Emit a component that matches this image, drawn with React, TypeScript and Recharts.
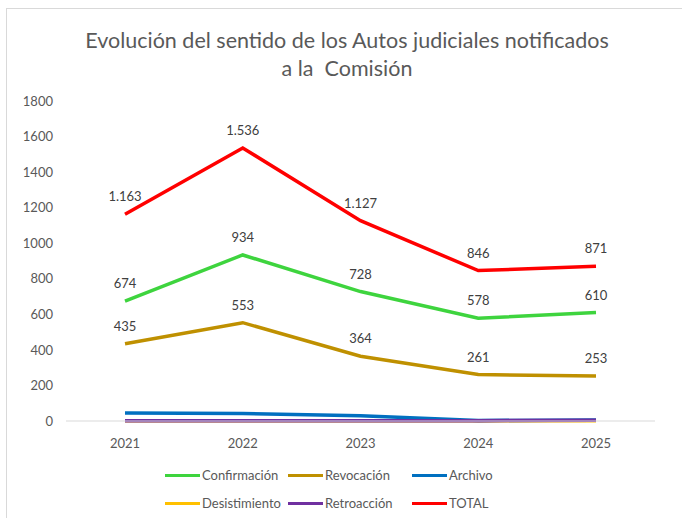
import React from 'react';
import { LineChart, Line, XAxis, YAxis, LabelList } from 'recharts';

const years = ['2021', '2022', '2023', '2024', '2025'];
const confirmacion = [674, 934, 728, 578, 610];
const revocacion = [435, 553, 364, 261, 253];
const archivo = [45, 42, 30, 3, 5];
const desistimiento = [1, 1, 1, 1, 1];
const retroaccion = [2, 2, 2, 2, 4];
const total = [1163, 1536, 1127, 846, 871];
const yTicks = [0, 200, 400, 600, 800, 1000, 1200, 1400, 1600, 1800];

const series = [
  { key: 'confirmacion', name: 'Confirmación', color: '#3ED43E', values: confirmacion, labels: true },
  { key: 'revocacion', name: 'Revocación', color: '#BF9000', values: revocacion, labels: true },
  { key: 'archivo', name: 'Archivo', color: '#0070C0', values: archivo, labels: false },
  { key: 'desistimiento', name: 'Desistimiento', color: '#FFC000', values: desistimiento, labels: false },
  { key: 'retroaccion', name: 'Retroacción', color: '#7030A0', values: retroaccion, labels: false },
  { key: 'total', name: 'TOTAL', color: '#FF0000', values: total, labels: true },
];

const data = years.map((year, i) => {
  const row: Record<string, string | number> = { year };
  series.forEach(s => { row[s.key] = s.values[i]; });
  return row;
});

const font = 'Lato, "Open Sans", sans-serif';
const fmt = (v: number) => (v >= 1000 ? v.toLocaleString('de-DE') : String(v));

const App: React.FC = () => {
  const legendCols = [165, 288, 412];
  return (
    <div style={{ position: 'absolute', left: 0, top: 0, width: 682, height: 518, background: '#fff', fontFamily: font }}>
      <div style={{ position: 'absolute', left: 6, top: 8, width: 690, height: 520, border: '1px solid #d9d9d9' }} />
      <div style={{ position: 'absolute', left: 0, top: 26, width: 694, textAlign: 'center', fontSize: 21.5, lineHeight: '28px', color: '#595959' }}>
        Evolución del sentido de los Autos judiciales notificados<br />a la&nbsp; Comisión
      </div>
      <div style={{ position: 'absolute', left: 0, top: 0 }}>
        <LineChart width={682} height={518} data={data} margin={{ top: 101, right: 27, bottom: 67, left: 0 }}>
          <XAxis
            dataKey="year"
            padding={{ left: 59, right: 59 }}
            axisLine={{ stroke: '#d9d9d9' }}
            tickLine={false}
            tickMargin={12}
            tick={{ fill: '#595959', fontSize: 13, fontFamily: font }}
            height={30}
          />
          <YAxis
            domain={[0, 1800]}
            ticks={yTicks}
            width={66}
            axisLine={false}
            tickLine={false}
            tickMargin={7}
            tick={{ fill: '#595959', fontSize: 13, fontFamily: font }}
          />
          {series.map(s => (
            <Line
              key={s.key}
              dataKey={s.key}
              name={s.name}
              stroke={s.color}
              strokeWidth={3.5}
              dot={false}
              type="linear"
              isAnimationActive={false}
            >
              {s.labels && (
                <LabelList
                  dataKey={s.key}
                  position="top"
                  offset={13}
                  formatter={(v: number) => fmt(v)}
                  style={{ fill: '#404040', fontSize: 13, fontFamily: font }}
                />
              )}
            </Line>
          ))}
        </LineChart>
      </div>
      {series.map((s, i) => (
        <div
          key={s.key}
          style={{
            position: 'absolute',
            left: legendCols[i % 3],
            top: i < 3 ? 466 : 494,
            display: 'flex',
            alignItems: 'center',
            fontSize: 13,
            color: '#595959',
            height: 18,
          }}
        >
          <span style={{ display: 'inline-block', width: 35, height: 3, background: s.color, marginRight: 2 }} />
          {s.name}
        </div>
      ))}
    </div>
  );
};

export default App;
